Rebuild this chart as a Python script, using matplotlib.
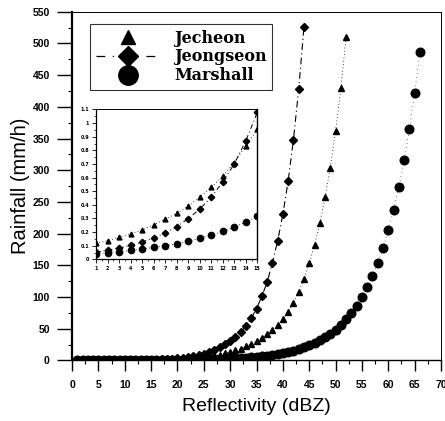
import matplotlib
matplotlib.use("Agg")
import matplotlib.pyplot as plt
from matplotlib.lines import Line2D
from matplotlib.ticker import MultipleLocator

# reflectivity steps (dBZ)
dbz_jecheon = list(range(1, 53))
dbz_jeongseon = list(range(1, 45))
dbz_marshall = list(range(1, 67))

# rainfall (mm/h)
r_jecheon = [0.117, 0.136, 0.163, 0.188, 0.215, 0.254, 0.295, 0.337, 0.39, 0.455,
             0.528, 0.61, 0.71, 0.833, 0.953, 1.13, 1.35, 1.61, 1.91, 2.28,
             2.7, 3.2, 3.85, 4.6, 5.45, 6.5, 7.7, 9.2, 11.0, 13.1,
             15.6, 18.5, 22.1, 26.0, 30.5, 36.0, 42.0, 48.5, 56.0, 65.0,
             77.0, 91.0, 108.0, 128.0, 153.0, 182.0, 216.0, 257.0, 304.0, 362.0,
             429.0, 510.0]
r_jeongseon = [0.054, 0.067, 0.083, 0.103, 0.127, 0.158, 0.193, 0.239, 0.298, 0.369,
               0.455, 0.569, 0.70, 0.87, 1.078, 1.35, 1.70, 2.14, 2.69, 3.4,
               4.3, 5.4, 6.8, 8.5, 10.7, 13.5, 17.0, 21.4, 25.7, 30.9,
               36.7, 44.6, 53.6, 66.7, 81.4, 101.0, 123.0, 154.0, 188.0, 231.0,
               283.0, 348.0, 428.0, 526.0]
r_marshall = [0.042, 0.049, 0.056, 0.065, 0.075, 0.087, 0.100, 0.115, 0.133, 0.154,
              0.178, 0.205, 0.237, 0.273, 0.316, 0.365, 0.421, 0.486, 0.562, 0.648,
              0.749, 0.865, 0.999, 1.153, 1.332, 1.538, 1.776, 2.051, 2.368, 2.735,
              3.158, 3.647, 4.211, 4.863, 5.616, 6.485, 7.489, 8.648, 9.986, 11.53,
              13.32, 15.38, 17.76, 20.51, 23.68, 27.35, 31.58, 36.47, 42.11, 48.63,
              56.16, 64.85, 74.89, 86.48, 99.86, 115.3, 133.2, 153.8, 177.6, 205.1,
              236.8, 273.5, 315.8, 364.7, 421.1, 486.3]

n_inset = 15
tick_font = dict(family="Liberation Sans", weight="bold", size=7.5)

fig = plt.figure(figsize=(4.45, 4.21), dpi=100)
ax = fig.add_axes([0.162, 0.144, 0.829, 0.828])

ax.plot(dbz_jecheon, r_jecheon, linestyle=(0, (1, 3)), linewidth=0.6, color="black",
        marker="^", markersize=4.5)
ax.plot(dbz_jeongseon, r_jeongseon, linestyle=(0, (6, 3, 1, 3)), linewidth=0.8, color="black",
        marker="D", markersize=4.2)
ax.plot(dbz_marshall, r_marshall, linestyle=(0, (1, 5)), linewidth=0.5, color="black",
        marker="o", markersize=6.2)

ax.set_xlim(0, 70)
ax.set_ylim(0, 550)
ax.xaxis.set_major_locator(MultipleLocator(5))
ax.xaxis.set_minor_locator(MultipleLocator(2.5))
ax.yaxis.set_major_locator(MultipleLocator(50))
ax.yaxis.set_minor_locator(MultipleLocator(25))
ax.tick_params(which="major", direction="out", length=8, width=1.0)
ax.tick_params(which="minor", direction="out", length=3, width=0.8)
ax.tick_params(axis="y", which="major", length=11)
for lab in ax.get_xticklabels() + ax.get_yticklabels():
    lab.set_fontproperties(tick_font)
ax.tick_params(axis="x", pad=6)
ax.tick_params(axis="y", pad=5)
ax.spines["left"].set_linewidth(1.6)
ax.spines["bottom"].set_linewidth(1.0)
ax.spines["top"].set_linewidth(0.7)
ax.spines["right"].set_linewidth(0.7)

ax.set_xlabel("Reflectivity (dBZ)", fontfamily="Liberation Sans", fontsize=14, labelpad=6)
ax.set_ylabel("Rainfall (mm/h)", fontfamily="Liberation Sans", fontsize=14.5, labelpad=2)

handles = [
    Line2D([], [], color="black", linestyle="none", marker="^", markersize=10),
    Line2D([], [], color="black", linestyle=(0, (7, 6, 1, 6)), linewidth=0.9,
           marker="D", markersize=10),
    Line2D([], [], color="black", linestyle="none", marker="o", markersize=14),
]
leg = ax.legend(handles, ["Jecheon", "Jeongseon", "Marshall"], loc="upper left",
                bbox_to_anchor=(0.049, 0.965), borderaxespad=0, frameon=True,
                fancybox=False, edgecolor="black", handlelength=4.0, borderpad=0.35,
                labelspacing=0.12, handletextpad=0.9,
                prop=dict(family="DejaVu Serif", weight="bold", size=11.5))
leg.get_frame().set_linewidth(0.8)

# inset: the first 15 dBZ
ins = fig.add_axes([0.2157, 0.384, 0.3625, 0.356])
ins.plot(dbz_jecheon[:n_inset], r_jecheon[:n_inset], linestyle=(0, (1, 3)), linewidth=0.6,
         color="black", marker="^", markersize=3.5)
ins.plot(dbz_jeongseon[:n_inset], r_jeongseon[:n_inset], linestyle=(0, (5, 3, 1, 3)),
         linewidth=0.7, color="black", marker="D", markersize=3.3)
ins.plot(dbz_marshall[:n_inset], r_marshall[:n_inset], linestyle=(0, (1, 3)), linewidth=0.6,
         color="black", marker="o", markersize=4.5)
ins.set_xlim(1, 15)
ins.set_ylim(0, 1.1)
ins.xaxis.set_major_locator(MultipleLocator(1))
ins.yaxis.set_major_locator(MultipleLocator(0.1))
ins.xaxis.set_minor_locator(MultipleLocator(0.5))
ins.yaxis.set_minor_locator(MultipleLocator(0.05))
ins.tick_params(which="major", direction="out", length=3, width=0.6, labelsize=3.5, pad=2)
ins.tick_params(which="minor", direction="out", length=1.5, width=0.5)
ins.set_yticks([i / 10 for i in range(12)])
ins.set_yticklabels(["0"] + ["%.1f" % (i / 10) for i in range(1, 10)] + ["1", "1.1"])
for lab in ins.get_xticklabels() + ins.get_yticklabels():
    lab.set_fontweight("bold")
ins.spines["left"].set_linewidth(0.9)
ins.spines["bottom"].set_linewidth(0.9)
ins.spines["right"].set_linewidth(1.0)
ins.spines["top"].set_linewidth(0.7)

fig.savefig("out.png", dpi=100)
